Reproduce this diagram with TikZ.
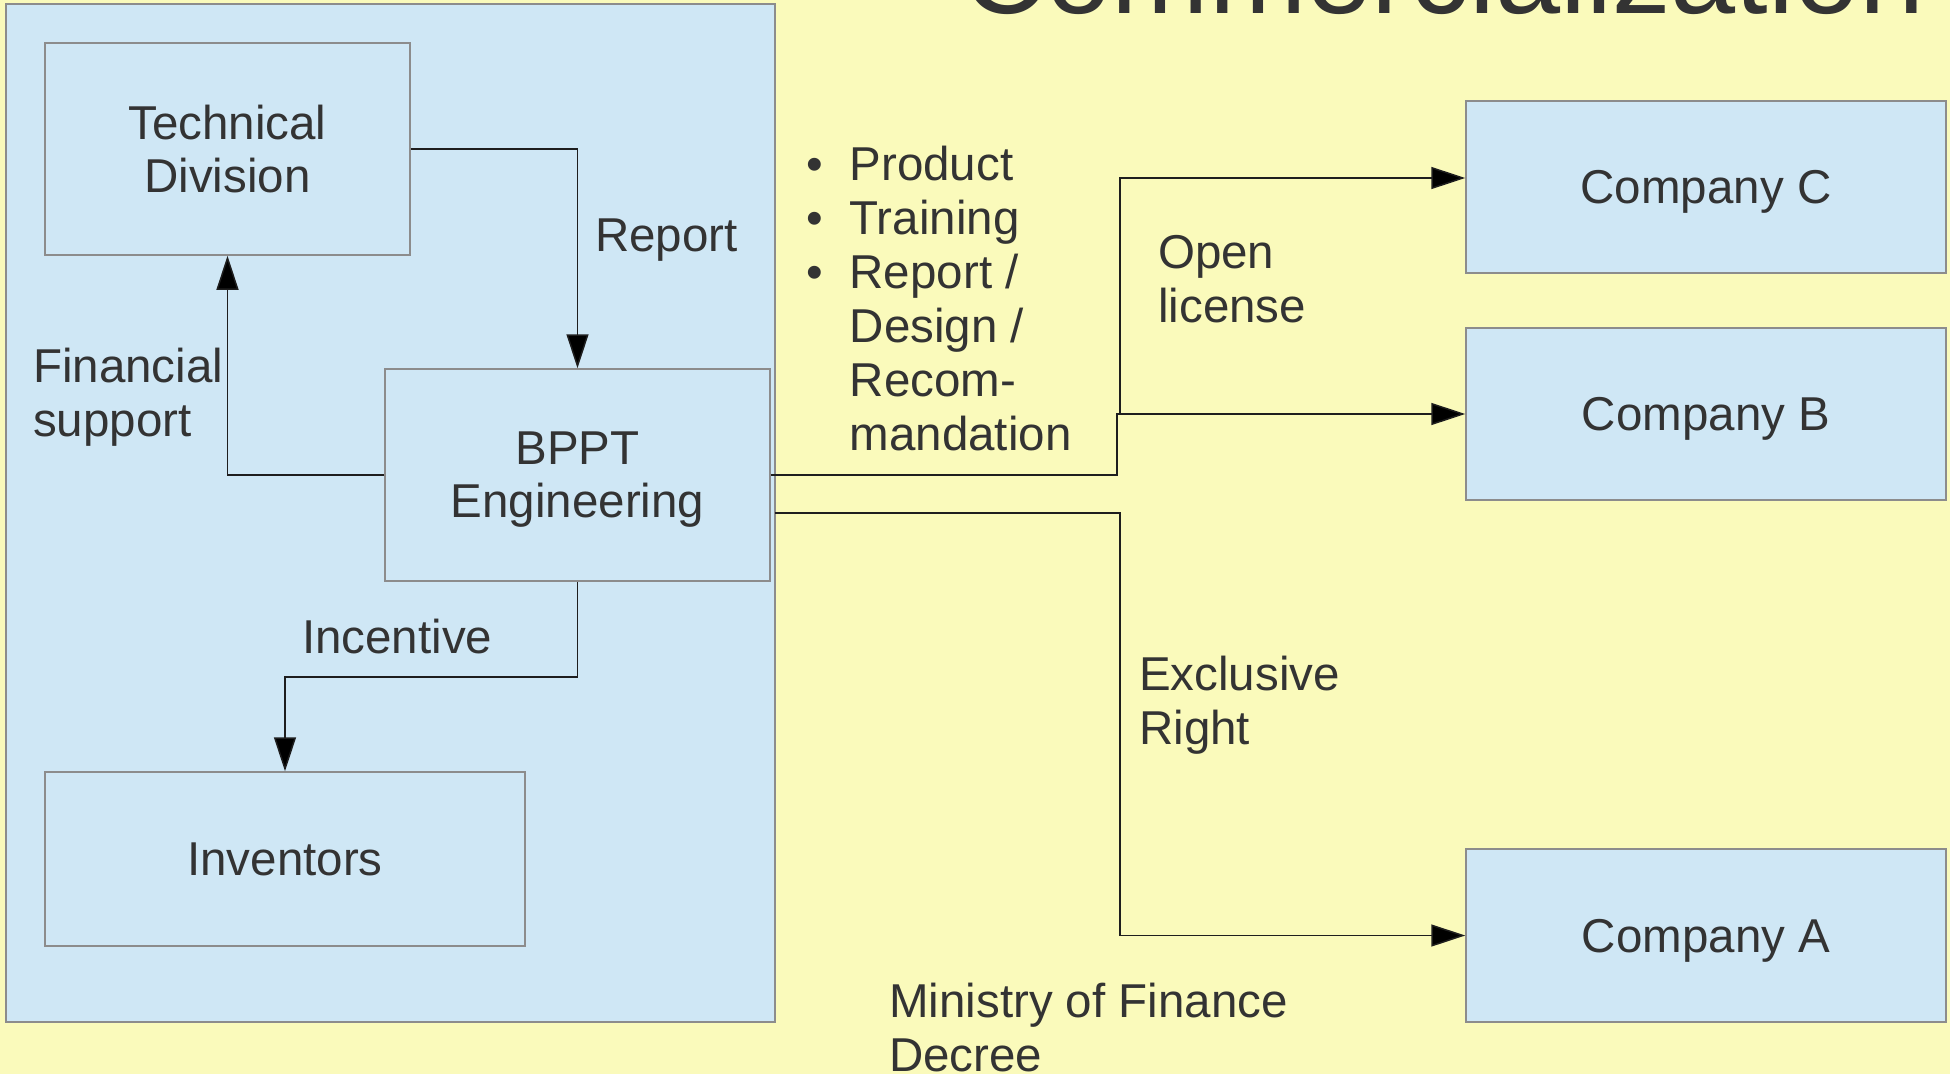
\documentclass[tikz,border=0pt]{standalone}
\usepackage{fontspec}
\setmainfont{Liberation Sans}
\usetikzlibrary{arrows.meta}
\definecolor{bgyellow}{RGB}{250,250,187}
\definecolor{paleblue}{RGB}{207,231,245}
\definecolor{boxgray}{RGB}{140,140,140}
\definecolor{txt}{RGB}{51,51,51}
\definecolor{linec}{RGB}{30,30,30}
\begin{document}
\begin{tikzpicture}[x=1pt,y=-1pt,
  box/.style={draw=boxgray, line width=1.5pt, fill=paleblue, inner sep=0pt, align=center, text=txt, font=\fontsize{47.5}{53}\selectfont},
  lbl/.style={anchor=base west, inner sep=0pt, align=left, text=txt, font=\fontsize{47.5}{54}\selectfont},
  arr/.style={draw=linec, line width=1.5pt, -{Triangle[length=34pt,width=22pt,fill=black]}},
  conn/.style={draw=linec, line width=1.5pt}]
\useasboundingbox (0,0) rectangle (1950,1074);
\clip (0,0) rectangle (1950,1074);
\fill[bgyellow] (0,0) rectangle (1950,1074);
\node[anchor=base west, inner sep=0pt, text=txt, font=\fontsize{117}{117}\selectfont] (title) at (962,13) {Commercialization};
\node[box, minimum width=769pt, minimum height=1018pt] (panel) at (390.5,513) {};
\node[box, minimum width=365pt, minimum height=212pt] (tech) at (227.5,149) {Technical\\Division};
\node[box, minimum width=385pt, minimum height=212pt, text depth=0pt] (bppt) at (577.5,475) {BPPT\\Engineering};
\node[box, minimum width=480pt, minimum height=174pt] (inv) at (285,859) {Inventors};
\node[box, minimum width=480pt, minimum height=172pt, text depth=0pt] (compC) at (1706,187) {Company C};
\node[box, minimum width=480pt, minimum height=172pt, text depth=0pt] (compB) at (1706,414) {Company B};
\node[box, minimum width=480pt, minimum height=173pt, text depth=0pt] (compA) at (1706,935.5) {Company A};
% connectors
\draw[arr] (tech.east) -| (bppt.north);
\draw[arr] (bppt.west) -| (tech.south);
\draw[arr] (bppt.south) -- ++(0,95) -| (inv.north);
\coordinate (jB) at (1117,414);
\coordinate (jC) at (1120,414);
\coordinate (jA) at (1120,935.5);
\draw[arr] (bppt.east) -| (jB) -- (compB.west);
\draw[arr] (jC) |- ([yshift=9pt]compC.west);
\draw[arr] ([xshift=4pt,yshift=-38pt]bppt.east) -| (jA) -- (compA.west);
% labels (base = baseline of last line)
\node[lbl] (lreport) at (595,251) {Report};
\node[lbl] (lfin) at (33,436) {Financial\\support};
\node[lbl] (linc) at (302,653) {Incentive};
\node[lbl] (lopen) at (1158,322) {Open\\license};
\node[lbl] (lexcl) at (1139,744) {Exclusive\\Right};
\node[lbl] (lmof) at (889,1071) {Ministry of Finance\\Decree};
\node[lbl] (list) at (806,450) {\makebox[43.5pt][l]{•}Product\\\makebox[43.5pt][l]{•}Training\\\makebox[43.5pt][l]{•}Report /\\\hspace*{43.5pt}Design /\\\hspace*{43.5pt}Recom-\\\hspace*{43.5pt}mandation};
\end{tikzpicture}
\end{document}
